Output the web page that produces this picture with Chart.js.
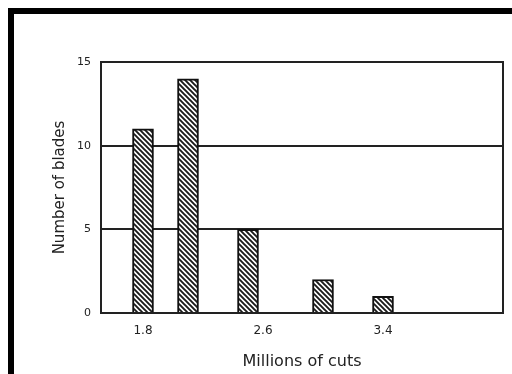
<!DOCTYPE html>
<html lang="en">
<head>
  <meta charset="UTF-8">
  <title>Blade life</title>
  <script src="https://cdn.jsdelivr.net/npm/chart.js"></script>
  <style>
    html, body { margin: 0; padding: 0; background: #fff; overflow: hidden; }
    .wrap { position: relative; width: 512px; height: 374px; }
    .frame {
      position: absolute; left: 8px; top: 8px; width: 600px; height: 500px;
      border-top: 6px solid #000; border-left: 6px solid #000;
      pointer-events: none;
    }
    canvas { position: absolute; left: 0; top: 0; }
  </style>
</head>
<body>
<div class="wrap">
  <canvas id="bladesChart" width="512" height="374"></canvas>
  <div class="frame"></div>
</div>

<script>
  // millions of cuts (bar positions) and number of blades
  const cuts = [1.8, 2.1, 2.5, 3.0, 3.4];
  const blades = [11, 14, 5, 2, 1];
  const xTicks = [1.8, 2.6, 3.4];
  const yTicks = [0, 5, 10, 15];

  function hatch() {
    const s = 5;
    const c = document.createElement('canvas');
    c.width = c.height = s;
    const g = c.getContext('2d');
    g.fillStyle = '#fff';
    g.fillRect(0, 0, s, s);
    g.strokeStyle = '#1a1a1a';
    g.lineWidth = 1.9;
    g.beginPath();
    g.moveTo(-1, -1); g.lineTo(s + 1, s + 1);
    g.moveTo(-1, s - 1); g.lineTo(1, s + 1);
    g.moveTo(s - 1, -1); g.lineTo(s + 1, 1);
    g.stroke();
    return g.createPattern(c, 'repeat');
  }

  const frameBox = {
    id: 'frameBox',
    afterDatasetsDraw(chart) {
      const a = chart.chartArea, ctx = chart.ctx;
      ctx.save();
      ctx.strokeStyle = '#222';
      ctx.lineWidth = 2;
      ctx.strokeRect(a.left, a.top, a.right - a.left, a.bottom - a.top);
      ctx.restore();
    }
  };

  const ink = '#222';
  const font = 'DejaVu Sans';

  new Chart(document.getElementById('bladesChart').getContext('2d'), {
    type: 'bar',
    data: {
      datasets: [{
        data: cuts.map((x, i) => ({ x: x, y: blades[i] })),
        backgroundColor: hatch(),
        borderColor: '#111',
        borderWidth: 2,
        barThickness: 21
      }]
    },
    plugins: [frameBox],
    options: {
      responsive: false,
      animation: false,
      layout: { padding: { left: 0, top: 62, right: 9, bottom: 0 } },
      plugins: { legend: { display: false }, tooltip: { enabled: false } },
      scales: {
        x: {
          type: 'linear',
          offset: false,
          min: 1.52,
          max: 4.2,
          afterBuildTicks: s => { s.ticks = xTicks.map(v => ({ value: v })); },
          afterFit: s => { s.height = 61; },
          grid: { display: false, drawTicks: false },
          border: { display: true, color: ink, width: 2 },
          ticks: { color: ink, font: { family: font, size: 12 }, padding: 11, maxRotation: 0 },
          title: {
            display: true, text: 'Millions of cuts', color: ink,
            font: { family: font, size: 16 }, padding: { top: 0, bottom: 3 }
          }
        },
        y: {
          min: 0,
          max: 15,
          afterBuildTicks: s => { s.ticks = yTicks.map(v => ({ value: v })); },
          afterFit: s => { s.width = 101; },
          grid: { color: ink, lineWidth: 2, drawTicks: false },
          border: { display: true, color: ink, width: 2 },
          ticks: { color: ink, font: { family: font, size: 11 }, padding: 10 },
          title: {
            display: true, text: 'Number of blades', color: ink,
            font: { family: font, size: 15 }, padding: { top: 51, bottom: 0 }
          }
        }
      }
    }
  });
</script>
</body>
</html>
